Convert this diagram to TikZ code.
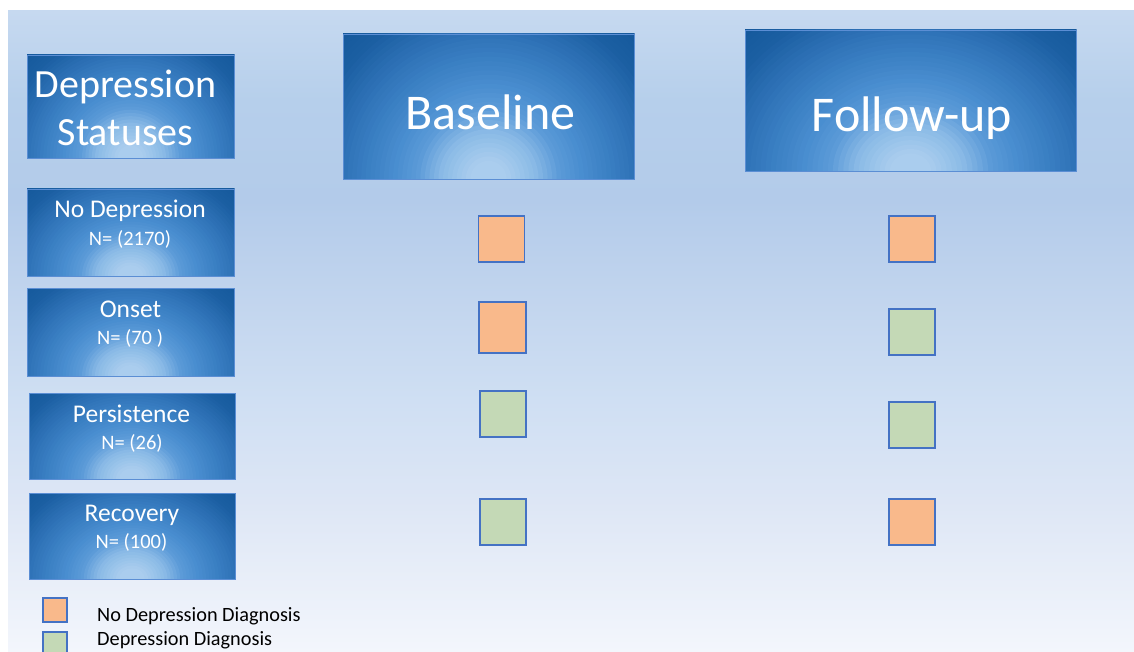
\documentclass[tikz,border=0pt]{standalone}
\usepackage{fontspec}
\setmainfont{Carlito}
\usetikzlibrary{calc}
\definecolor{bordercol}{HTML}{5B8ED4}
\definecolor{sqborder}{HTML}{4472C4}
\definecolor{orangefill}{HTML}{F9B98B}
\definecolor{greenfill}{HTML}{C4D9B6}
\definecolor{g0}{HTML}{C6D9F0}
\definecolor{g1}{HTML}{B6CFEB}
\definecolor{g2}{HTML}{B3CBEA}
\definecolor{g3}{HTML}{C2D5EE}
\definecolor{g4}{HTML}{CFDFF3}
\definecolor{g5}{HTML}{DDE6F5}
\definecolor{g6}{HTML}{F3F6FC}
\definecolor{c0}{HTML}{AACDEE}
\definecolor{c1}{HTML}{8ABAE6}
\definecolor{c2}{HTML}{5C9BD8}
\definecolor{c3}{HTML}{4A8ED0}
\definecolor{c4}{HTML}{3A7FC3}
\definecolor{c5}{HTML}{2C6FB4}
\definecolor{c6}{HTML}{1B5FA2}
\definecolor{c7}{HTML}{135699}
\newcommand\setboxcol[1]{%
  \pgfmathsetmacro\bxr{#1}%
  \ifdim\bxr pt<0.14pt
    \colorlet{cur}{c0}%
  \else\ifdim\bxr pt<0.34pt
    \pgfmathsetmacro\bxp{(\bxr-0.14)/0.2*100}\colorlet{cur}{c1!\bxp!c0}%
  \else\ifdim\bxr pt<0.5pt
    \pgfmathsetmacro\bxp{(\bxr-0.34)/0.16*100}\colorlet{cur}{c2!\bxp!c1}%
  \else\ifdim\bxr pt<0.65pt
    \pgfmathsetmacro\bxp{(\bxr-0.5)/0.15*100}\colorlet{cur}{c3!\bxp!c2}%
  \else\ifdim\bxr pt<0.85pt
    \pgfmathsetmacro\bxp{(\bxr-0.65)/0.2*100}\colorlet{cur}{c4!\bxp!c3}%
  \else\ifdim\bxr pt<1.05pt
    \pgfmathsetmacro\bxp{(\bxr-0.85)/0.2*100}\colorlet{cur}{c5!\bxp!c4}%
  \else\ifdim\bxr pt<1.25pt
    \pgfmathsetmacro\bxp{(\bxr-1.05)/0.2*100}\colorlet{cur}{c6!\bxp!c5}%
  \else\ifdim\bxr pt<1.5pt
    \pgfmathsetmacro\bxp{(\bxr-1.25)/0.25*100}\colorlet{cur}{c7!\bxp!c6}%
  \else
    \colorlet{cur}{c7}%
  \fi\fi\fi\fi\fi\fi\fi\fi}
\tikzset{
  bluebox/.style 2 args={draw=bordercol, line width=0.8pt, inner sep=0pt,
    minimum width=#1pt, minimum height=#2pt,
    path picture={
      \foreach \i in {52,51,...,1}{
        \pgfmathsetmacro\rad{\i/32}
        \setboxcol{\rad}
        \fill[cur] (path picture bounding box.south)
          ellipse [x radius={\rad*#1*0.5pt}, y radius={\rad*#2*1pt}];
      }}},
  wtext/.style={text=white, inner sep=0pt, anchor=base},
  hdrfont/.style={font=\fontsize{40}{48}\selectfont},
  colfont/.style={font=\fontsize{50}{60}\selectfont},
  namefont/.style={font=\fontsize{25.5}{30}\selectfont},
  nfont/.style={font=\fontsize{20.5}{24}\selectfont},
  legfont/.style={font=\fontsize{20.3}{24}\selectfont, text=black, inner sep=0pt, anchor=base west},
  sq/.style={draw=sqborder, line width=1.4pt, inner sep=0pt, minimum width=46pt, minimum height=46pt},
  nodx/.style={sq, fill=orangefill},
  depx/.style={sq, fill=greenfill},
  legsq/.style={draw=sqborder, line width=1.2pt, inner sep=0pt, minimum width=24pt, minimum height=24pt}
}
\begin{document}
\begin{tikzpicture}[x=1pt,y=-1pt]
\useasboundingbox (0,0) rectangle (1134,652);
\fill[white] (0,0) rectangle (1134,652);
% background gradient, in bands
\shade[top color=g0, bottom color=g1] (8,11) rectangle (1134,100.5);
\shade[top color=g1, bottom color=g2] (8,100) rectangle (1134,200.5);
\shade[top color=g2, bottom color=g3] (8,200) rectangle (1134,300.5);
\shade[top color=g3, bottom color=g4] (8,300) rectangle (1134,400.5);
\shade[top color=g4, bottom color=g5] (8,400) rectangle (1134,500.5);
\shade[top color=g5, bottom color=g6] (8,500) rectangle (1134,652);

% header boxes
\node[bluebox={207}{103}] (hdr) at (130.5,106.5) {};
\node[wtext, hdrfont] (hdrA) at (125.5,98) {Depression};
\node[wtext, hdrfont] (hdrB) at (125.5,146) {Statuses};

\node[bluebox={291}{145}] (base) at (488.5,106.5) {};
\node[wtext, colfont] (baseT) at (490.5,130) {Baseline};

\node[bluebox={331}{141}] (fup) at (910.5,100.5) {};
\node[wtext, colfont] (fupT) at (912,132) {Follow-up};

% status boxes
\node[bluebox={207}{87}] (nd) at (130.5,232.5) {};
\node[wtext, namefont] (ndA) at (130,218) {No Depression};
\node[wtext, nfont] (ndB) at (130,245.5) {N= (2170)};

\node[bluebox={207}{88}] (on) at (130.5,332) {};
\node[wtext, namefont] (onA) at (130.5,317.5) {Onset};
\node[wtext, nfont] (onB) at (130,344) {N= (70 )};

\node[bluebox={206}{86}] (pe) at (132,436) {};
\node[wtext, namefont] (peA) at (131.5,422) {Persistence};
\node[wtext, nfont] (peB) at (132,449) {N= (26)};

\node[bluebox={206}{86}] (re) at (132,536) {};
\node[wtext, namefont] (reA) at (132,521.5) {Recovery};
\node[wtext, nfont] (reB) at (131.5,548) {N= (100)};

% baseline squares
\node[nodx] (b1) at (501.5,239) {};
\node[nodx, minimum width=47pt, minimum height=51pt] (b2) at (502.5,327.5) {};
\node[depx] (b3) at (503,414) {};
\node[depx] (b4) at (503,522) {};

% follow-up squares
\node[nodx] (f1) at (912,239) {};
\node[depx] (f2) at (912,332) {};
\node[depx] (f3) at (912,425) {};
\node[nodx] (f4) at (912,522) {};

% legend
\node[legsq, fill=orangefill] (lg1) at (55,610) {};
\node[legsq, fill=greenfill] (lg2) at (55,644) {};
\node[legfont] (lt1) at (97,621.5) {No Depression Diagnosis};
\node[legfont] (lt2) at (97,645.5) {Depression Diagnosis};
\end{tikzpicture}
\end{document}
